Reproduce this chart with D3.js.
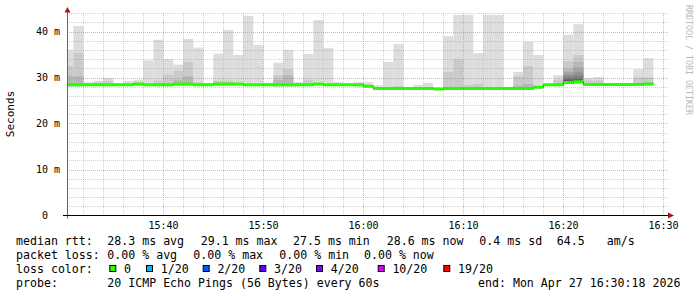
<!DOCTYPE html>
<html><head><meta charset="utf-8">
<script src="https://cdn.jsdelivr.net/npm/d3@7"></script>
<style>body{margin:0;background:#fff}svg{display:block}</style>
</head><body><svg id="c" width="697" height="297"></svg>
<script>
// ---------- data ----------
const day = "2026-04-27";
const viewStart = "15:30:22";
const viewEnd = "16:30:22";
const firstSlot = "15:30"; // one-minute slots
const medianRtt = [
  28.4,28.4,28.4,28.4,28.4,28.4,28.4,28.6,28.4,28.4,
  28.4,28.6,28.6,28.4,28.4,28.6,28.6,28.6,28.4,28.4,
  28.4,28.4,28.4,28.4,28.4,28.6,28.4,28.4,28.4,28.4,
  28.1,27.6,27.6,27.6,27.6,27.6,27.6,27.5,27.6,27.6,
  27.6,27.6,27.6,27.6,27.6,27.6,27.6,27.9,28.4,28.4,
  28.9,29.1,28.5,28.5,28.5,28.5,28.5,28.5,28.6
];
// upper edges of the smoke bands (outermost first)
const smokeTops = [
  [36.0,32.5,30.5],[41.2,35.4,30.3],[29.0],[29.3,28.9],[29.9,29.3],
  [28.8],[29.2],[29.5,29.0],[33.7],[38.2,29.3],
  [34.0,30.6],[32.8,31.5,29.5],[38.4,33.4,30.3],[36.5,29.0],[28.8],
  [35.2,29.3,28.9],[40.3,29.3],[34.9],[43.4],[37.1],
  [28.9],[33.2,30.5,29.5],[36.0,31.8,30.5],[29.0,28.7],[35.1,29.5],
  [42.5],[36.4],[29.0],[28.7],[29.0],
  [29.0],[28.3],[33.4],[37.3,28.1],[27.9],
  [28.4],[28.8],[27.6],[39.0,31.2],[43.6,34.0],
  [43.6,28.4],[35.3,28.6],[43.6],[43.6],[27.8],
  [31.2,30.3,28.2],[37.8,32.5,28.6],[34.9],[28.5],[30.5,29.5],
  [39.3,33.6,32.0,31.2,30.6,30.1,29.7,29.4,29.2],
  [41.6,34.9,33.4,32.2,31.1,30.4,29.8,29.5,29.3],
  [29.9,29.4],[30.1,29.4],[28.8],[28.8],[28.5],[31.8,30.0],[34.2,30.0]
];
const yTicks = [0,10,20,30,40];
const yTickLabels = ["0  ","10 m","20 m","30 m","40 m"];
const yMax = 44;
const lossLabels = ["0","1/20","2/20","3/20","4/20","10/20","19/20"];
const lossColors = ["#26ff00","#00b8ff","#0059ff","#5e00ff","#7e00ff","#dd00ff","#ff0000"];
const rttStats = ["median rtt:","28.3 ms avg","29.1 ms max","27.5 ms min","28.6 ms now","0.4 ms sd","64.5","am/s"];
const lossStats = ["packet loss:","0.00 % avg","0.00 % max","0.00 % min","0.00 % now"];
const probeText = ["probe:","20 ICMP Echo Pings (56 Bytes) every 60s"];
const endText = "end: Mon Apr 27 16:30:18 2026";

// ---------- layout ----------
const L = {left:67, right:667, top:13.1, bottom:215.5};
const rttX = [16,107.3,200.7,293,386.7,479.3,556.7,606.7];
const lossX = [16,107.3,193.3,279.3,364];
const swatchX = [109.3,146,202.7,259.3,316,377.7,443.3];
const legendRows = [244.5,258.5,272.5,286.5];
const MONO = "'DejaVu Sans Mono', monospace";

const svg = d3.select("#c");
const parse = d3.timeParse("%Y-%m-%d %H:%M:%S");
const x = d3.scaleTime()
  .domain([parse(day+" "+viewStart), parse(day+" "+viewEnd)])
  .range([L.left, L.right]);
const y = d3.scaleLinear().domain([0, yMax]).range([L.bottom, L.top]);
const t0 = parse(day+" "+firstSlot+":00");
const slots = medianRtt.map((m,k)=>({
  t0: d3.timeMinute.offset(t0,k), t1: d3.timeMinute.offset(t0,k+1),
  med: m, tops: smokeTops[k]
}));

svg.append("rect").attr("width",697).attr("height",297).attr("fill","#fff");
svg.append("clipPath").attr("id","plot").append("rect")
  .attr("x",L.left).attr("y",L.top-2).attr("width",L.right-L.left).attr("height",L.bottom-L.top+2);

const plot = svg.append("g").attr("clip-path","url(#plot)");
// smoke
slots.forEach(s=>{
  s.tops.forEach((top,j)=>{
    const g = Math.round(190/10*(10-(j+1)))+50;
    const lo = s.med-0.3;
    plot.append("rect")
      .attr("x",x(s.t0)).attr("width",x(s.t1)-x(s.t0))
      .attr("y",y(top)).attr("height",Math.max(0,y(lo)-y(top)))
      .attr("fill",d3.rgb(g,g,g));
  });
});

// grid (drawn over smoke)
const gridG = svg.append("g").attr("shape-rendering","crispEdges");
const minorT = d3.timeMinute.every(2).range(x.domain()[0], x.domain()[1]);
minorT.forEach(t=>{
  const major = t.getMinutes()%10===0;
  const xx = Math.round(x(t))+0.5;
  gridG.append("line").attr("x1",xx).attr("x2",xx).attr("y1",L.bottom).attr("y2",L.top)
    .attr("stroke",major?"rgba(220,90,90,0.5)":"rgba(150,150,150,0.45)")
    .attr("stroke-dasharray","1,1");
});
d3.range(2, yMax+0.01, 2).forEach(v=>{
  const major = v%10===0;
  const yy = Math.round(y(v))+0.5;
  gridG.append("line").attr("x1",L.left).attr("x2",L.right+1).attr("y1",yy).attr("y2",yy)
    .attr("stroke",major?"rgba(220,90,90,0.5)":"rgba(150,150,150,0.45)")
    .attr("stroke-dasharray","1,1");
});

// median line
const step = [];
slots.forEach(s=>{ step.push([x(s.t0),y(s.med)]); step.push([x(s.t1),y(s.med)]); });
plot.append("path").attr("d",d3.line()(step)).attr("fill","none")
  .attr("stroke","#202020").attr("stroke-width",1);
slots.forEach(s=>{
  plot.append("line").attr("x1",x(s.t0)).attr("x2",x(s.t1))
    .attr("y1",y(s.med)).attr("y2",y(s.med))
    .attr("stroke",lossColors[0]).attr("stroke-width",3);
});

// axes
svg.append("line").attr("x1",L.left+0.5).attr("x2",L.left+0.5).attr("y1",L.bottom+3).attr("y2",9)
  .attr("stroke","#666").attr("stroke-width",1);
svg.append("line").attr("x1",63).attr("x2",670).attr("y1",L.bottom).attr("y2",L.bottom)
  .attr("stroke","#000").attr("stroke-width",1);
svg.append("path").attr("d",`M${L.left+0.5-3},12.5 L${L.left+0.5+3},12.5 L${L.left+0.5},7 Z`).attr("fill","#a01818");
svg.append("path").attr("d",`M668,${L.bottom-3} L668,${L.bottom+3} L674,${L.bottom} Z`).attr("fill","#a01818");

// tick labels
const xAxisG = svg.append("g").attr("font-family",MONO).attr("font-size","10px").attr("fill","#000");
d3.timeMinute.every(10).range(x.domain()[0], d3.timeMinute.offset(x.domain()[1],1)).forEach(t=>{
  xAxisG.append("text").attr("x",Math.round(x(t))+0.5).attr("y",228.5).attr("text-anchor","middle")
    .text(d3.timeFormat("%H:%M")(t));
});
yTicks.forEach((v,i)=>{
  xAxisG.append("text").attr("x",60).attr("y",y(v)+3.5).attr("text-anchor","end")
    .attr("xml:space","preserve").style("white-space","pre").text(yTickLabels[i]);
});

svg.append("text").attr("transform","translate(14,114) rotate(-90)").attr("text-anchor","middle")
  .attr("font-family",MONO).attr("font-size","11px").attr("fill","#000").text("Seconds");
svg.append("text").attr("transform","translate(686,5) rotate(90)").attr("text-anchor","start")
  .attr("font-family",MONO).attr("font-size","8.3px").attr("fill","#b8b8b8").text("RRDTOOL / TOBI OETIKER");

// legend
const leg = svg.append("g").attr("font-family",MONO).attr("font-size","11.6px").attr("fill","#000");
rttStats.forEach((s,i)=>leg.append("text").attr("x",rttX[i]).attr("y",legendRows[0]).text(s));
lossStats.forEach((s,i)=>leg.append("text").attr("x",lossX[i]).attr("y",legendRows[1]).text(s));
leg.append("text").attr("x",16).attr("y",legendRows[2]).text("loss color:");
lossLabels.forEach((s,i)=>{
  leg.append("rect").attr("x",swatchX[i]+0.5).attr("y",265.5).attr("width",6).attr("height",6)
    .attr("fill",lossColors[i]).attr("stroke","#000").attr("stroke-width",1);
  leg.append("text").attr("x",swatchX[i]+14.7).attr("y",legendRows[2]).text(s);
});
leg.append("text").attr("x",16).attr("y",legendRows[3]).text(probeText[0]);
leg.append("text").attr("x",107.3).attr("y",legendRows[3]).text(probeText[1]);
leg.append("text").attr("x",478).attr("y",legendRows[3]).text(endText);
</script></body></html>
